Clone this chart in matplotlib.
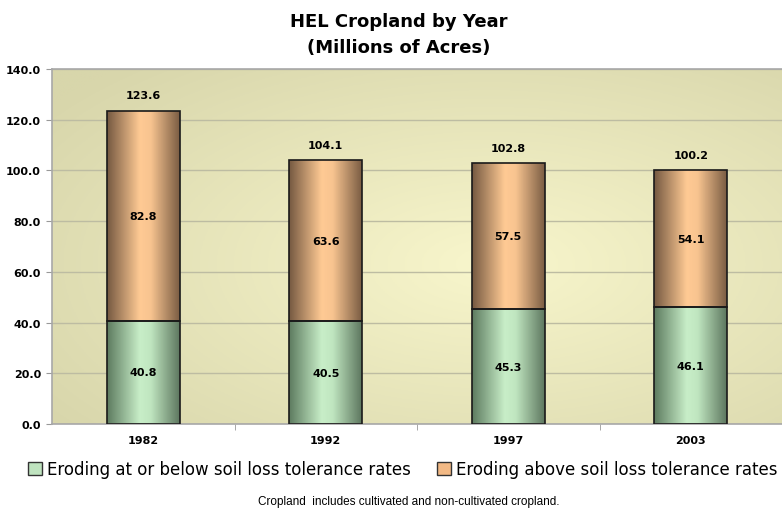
import numpy as np
import matplotlib
matplotlib.use("Agg")
import matplotlib.pyplot as plt
from matplotlib.colors import LinearSegmentedColormap, to_rgb
from matplotlib.patches import Patch

years = ["1982", "1992", "1997", "2003"]
below_tol = [40.8, 40.5, 45.3, 46.1]
above_tol = [82.8, 63.6, 57.5, 54.1]
totals = [123.6, 104.1, 102.8, 100.2]
series_names = ["Eroding at or below soil loss tolerance rates",
                "Eroding above soil loss tolerance rates"]

plt.rcParams['font.family'] = ['DejaVu Sans']

fig = plt.figure(figsize=(7.82, 5.10), dpi=100)
ax = fig.add_axes([0.0665, 0.1667, 0.9335, 0.696])

# radial background in the plot area
c_in = np.array(to_rgb("#f8f6cc"))
c_out = np.array(to_rgb("#d8d6ab"))
gx, gy = np.meshgrid(np.linspace(0, 1, 300), np.linspace(0, 1, 200))
d = np.sqrt(((gx - 0.6) / 0.75) ** 2 + ((gy - 0.45) / 0.75) ** 2)
d = np.clip(d, 0, 1)[..., None]
bg = c_in * (1 - d) + c_out * d
ax.imshow(bg, extent=(0, 1, 0, 1), transform=ax.transAxes, origin="lower",
          aspect="auto", zorder=0)
ax.set_facecolor("none")

green_cm = LinearSegmentedColormap.from_list(
    "g", [(0, "#5e7c60"), (0.45, "#c8eec8"), (0.6, "#c0e6c0"), (1, "#5e7860")])
orange_cm = LinearSegmentedColormap.from_list(
    "o", [(0, "#765a42"), (0.45, "#ffca94"), (0.6, "#f8c490"), (1, "#7c5e44")])

x = np.arange(len(years))
w = 0.4
b1 = ax.bar(x, below_tol, w, facecolor="none", edgecolor="#1a1a1a", lw=1.2, zorder=3)
b2 = ax.bar(x, above_tol, w, bottom=below_tol, facecolor="none",
            edgecolor="#1a1a1a", lw=1.2, zorder=3)

grad = np.linspace(0, 1, 100).reshape(1, -1)
for bars, cm in [(b1, green_cm), (b2, orange_cm)]:
    for p in bars:
        x0, y0 = p.get_x(), p.get_y()
        im = ax.imshow(grad, cmap=cm, extent=(x0, x0 + p.get_width(), y0, y0 + p.get_height()),
                       aspect="auto", zorder=2)
        im.set_clip_path(p)

for i in range(len(years)):
    ax.text(x[i], below_tol[i] / 2, f"{below_tol[i]:.1f}", ha="center", va="center",
            fontsize=8, fontweight="bold", zorder=4)
    ax.text(x[i], below_tol[i] + above_tol[i] / 2, f"{above_tol[i]:.1f}", ha="center",
            va="center", fontsize=8, fontweight="bold", zorder=4)
    ax.text(x[i], totals[i] + 4, f"{totals[i]:.1f}", ha="center", va="bottom",
            fontsize=8, fontweight="bold", zorder=4)

ax.set_xlim(-0.5, 3.5)
ax.set_ylim(0, 140)
ax.set_yticks(np.arange(0, 141, 20))
ax.set_yticklabels([f"{v:.1f}" for v in np.arange(0, 141, 20)], fontsize=8, fontweight="bold")
ax.yaxis.grid(True, color="#bdbca2", lw=1)
ax.set_axisbelow(True)
for gl in ax.get_ygridlines():
    gl.set_zorder(1)
ax.set_xticks(x)
ax.set_xticklabels(years, fontsize=8, fontweight="bold")
ax.set_xticks([0.5, 1.5, 2.5], minor=True)
ax.tick_params(axis="x", which="major", length=0, pad=8)
ax.tick_params(axis="x", which="minor", length=4, color="#999999")
ax.tick_params(axis="y", length=4, color="#999999", pad=4)
for s in ["left", "bottom", "top"]:
    ax.spines[s].set_color("#a8a8a8")
    ax.spines[s].set_linewidth(1.2)
ax.spines["right"].set_visible(False)

fig.text(0.51, 0.957, "HEL Cropland by Year", ha="center", va="center",
         fontsize=13, fontweight="bold")
fig.text(0.51, 0.905, "(Millions of Acres)", ha="center", va="center",
         fontsize=13, fontweight="bold")

handles = [Patch(facecolor="#bfe3bf", edgecolor="#333333"),
           Patch(facecolor="#f2b985", edgecolor="#333333")]
fig.legend(handles, series_names, loc="center", bbox_to_anchor=(0.515, 0.078), ncol=2,
           frameon=False, fontsize=12, handlelength=0.8, handleheight=0.8,
           handletextpad=0.3, columnspacing=1.6)

fig.text(0.523, 0.016, "Cropland  includes cultivated and non-cultivated cropland.",
         ha="center", va="center", fontsize=8.5, family="Liberation Sans")

fig.savefig("out.png", dpi=100)
